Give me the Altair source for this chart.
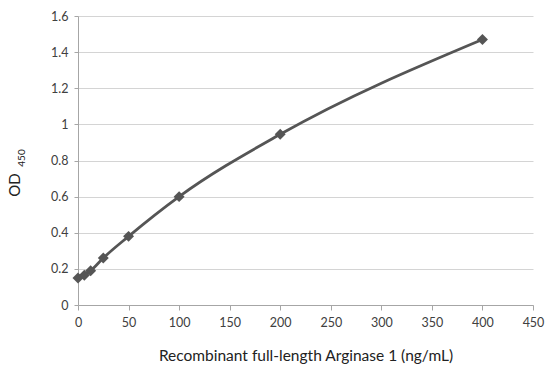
import altair as alt
import pandas as pd

conc = [0, 6.25, 12.5, 25, 50, 100, 200, 400]
od = [0.15, 0.165, 0.19, 0.26, 0.38, 0.60, 0.945, 1.47]
x_ticks = [0, 50, 100, 150, 200, 250, 300, 350, 400, 450]
y_ticks = [0, 0.2, 0.4, 0.6, 0.8, 1.0, 1.2, 1.4, 1.6]

df = pd.DataFrame({"conc": conc, "od": od})
FONT = "Lato"
GRAY = "#555555"

x = alt.X("conc:Q", scale=alt.Scale(domain=[0, 450], nice=False),
          axis=alt.Axis(values=x_ticks, title="Recombinant full-length Arginase 1 (ng/mL)",
                        grid=False, domainColor="#a6a6a6", tickColor="#a6a6a6", tickSize=5,
                        labelFlush=False,
                        labelFont=FONT, labelFontSize=12.5, labelColor="#404040", labelPadding=6,
                        titleFont=FONT, titleFontSize=15.5, titleFontWeight="normal",
                        titleColor="#222222", titlePadding=20))
y = alt.Y("od:Q", scale=alt.Scale(domain=[0, 1.6], nice=False),
          axis=alt.Axis(values=y_ticks, title=None, labelExpr="format(datum.value, '.1~f')",
                        grid=True, gridColor="#d4d4d4", domainColor="#a6a6a6",
                        tickColor="#a6a6a6", tickSize=4, labelFlush=False,
                        labelFont=FONT, labelFontSize=12.5, labelColor="#404040", labelPadding=6))

line = alt.Chart(df).mark_line(color=GRAY, strokeWidth=2.8, interpolate="monotone").encode(x=x, y=y)
pts = alt.Chart(df).mark_point(shape="diamond", filled=True, color=GRAY, size=120, opacity=1).encode(x=x, y=y)

ylab = alt.Chart(pd.DataFrame({"t": ["OD"]})).mark_text(
    angle=270, font=FONT, fontSize=15, color="#222222", align="center", baseline="middle"
).encode(text="t:N", x=alt.value(-63), y=alt.value(169))
ysub = alt.Chart(pd.DataFrame({"t": ["450"]})).mark_text(
    angle=270, font=FONT, fontSize=10, color="#222222", align="center", baseline="middle"
).encode(text="t:N", x=alt.value(-56), y=alt.value(142))

chart = alt.layer(line, pts, ylab, ysub).properties(
    width=455, height=289,
    autosize=alt.AutoSizeParams(type="none"),
    padding={"left": 78, "top": 16, "right": 26, "bottom": 75},
    background="white",
).configure_view(stroke=None)

chart.save("out.html", embed_options={"renderer": "svg", "actions": False})
